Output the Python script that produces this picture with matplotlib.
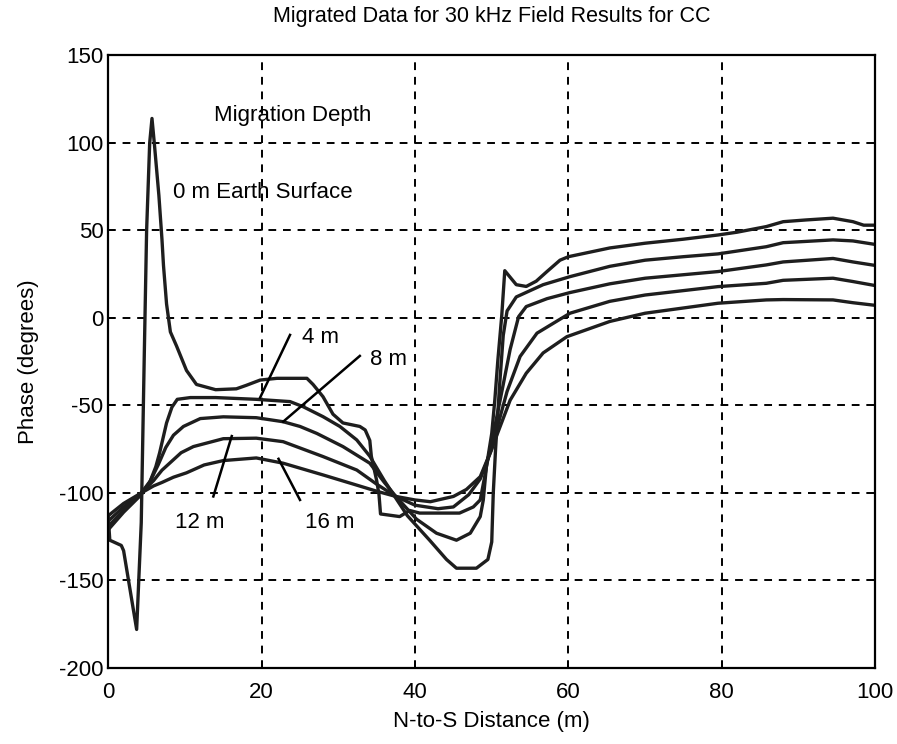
import matplotlib
matplotlib.use("Agg")
import matplotlib.pyplot as plt

plt.rcParams['font.family'] = ['Liberation Sans', 'DejaVu Sans']
plt.rcParams['axes.unicode_minus'] = False

# 0 m (earth surface)
x_0m = [0, 0.2, 1.7, 2.0, 3.7, 4.3, 4.7, 5.0, 5.4, 5.7, 6.0, 6.3, 6.6, 7.0, 7.2, 7.6, 8.1, 8.9,
        10.2, 11.5, 14.0, 16.7, 18.0, 19.8, 22.0, 25.9, 26.7, 28.0, 29.3, 30.6, 32.8, 33.5, 34.1,
        34.3, 35.0, 35.3, 35.5, 38.0, 39.3, 40.6, 45.8, 47.6, 48.5, 49.2, 50.0, 50.4, 50.8, 51.3,
        51.7, 53.2, 54.5, 55.8, 57.2, 58.9, 60.0, 65.4, 70.0, 75.0, 79.5, 82.0, 85.8, 88.0, 91.0,
        94.5, 97.1, 98.5, 100]
y_0m = [-114, -127, -130, -133, -178, -117, -20, 50, 100, 114, 100, 85, 70, 45, 30, 8, -8, -16,
        -30, -38, -41, -40.5, -38.5, -35.5, -34.5, -34.5, -38, -45, -55, -60, -62, -64, -70,
        -79, -93, -101, -112, -113.5, -110, -111.5, -111.5, -108, -104, -88, -66, -47, -24, 1,
        27, 19, 18, 21, 26.5, 33, 35, 40, 42.7, 45, 47.4, 49, 52.2, 55, 56,
        57, 55, 53, 53]

# 4 m
x_4m = [0, 2, 4.3, 5.4, 6.2, 6.7, 7.6, 8.3, 9.0, 10.7, 14, 19.3, 23.7, 25.4, 28, 30.2, 32.4,
        34.1, 36, 37.5, 39, 41.9, 44.1, 45.4, 48.0, 49.5, 50.0, 50.2, 50.5, 51.0, 51.5, 52.0,
        53.2, 56.7, 60.2, 65.4, 70, 75, 79.5, 85.8, 88, 94.5, 97.1, 100]
y_4m = [-121, -111, -101, -94, -85, -77, -60, -51, -46.5, -45.5, -45.5, -46.5, -47.8, -50.7,
        -56.4, -62, -69.7, -79, -93, -103, -113, -127, -138, -143, -143, -138, -128, -100, -75,
        -40, -10, 4, 12, 19, 23.6, 29.5, 33, 35, 36.6, 40.7, 43, 44.6, 44, 42]

# 8 m
x_8m = [0, 2, 4.3, 5.5, 6.5, 7.5, 8.5, 9.8, 12, 15, 19.3, 22.8, 25, 27.2, 30.6, 34.1, 36, 37.5,
        40.2, 42.8, 45.4, 47.2, 48.5, 48.9, 49.3, 50.5, 51.5, 52.4, 53.5, 54.5, 57.2, 60.2, 65.4,
        70, 79.5, 85.8, 88, 94.5, 97.1, 100]
y_8m = [-119, -110, -100, -93, -84, -74, -67, -62, -57.5, -56.5, -57, -59.3, -62, -66, -73.5,
        -83, -94, -102, -115, -123, -127, -123, -113.5, -104, -85, -60, -38, -18, 0.7, 6.5, 11,
        14.5, 19.5, 22.7, 26.5, 30.3, 32, 34, 32, 30]

# 12 m
x_12m = [0, 2, 4.3, 5.9, 7, 8, 9.5, 11.1, 15, 19.3, 22.8, 28, 32.4, 35, 37.5, 40, 43, 45, 47,
         48.5, 50, 51, 52, 53.7, 55.9, 60.2, 65.4, 70, 79.5, 85.8, 88, 94.5, 97.1, 100]
y_12m = [-116, -108, -100, -93, -87, -83, -77, -73.5, -69, -68.7, -70.7, -79.2, -86.9, -95, -102,
         -107, -109, -108, -101, -92, -75, -58, -42, -22, -8.7, 2.7, 9.5, 13.1, 17.9, 19.8, 21.5,
         22.7, 20.8, 18.5]

# 16 m
x_16m = [0, 2, 4.3, 5.9, 7, 8.5, 10.2, 12.5, 15, 19.3, 22.8, 28, 32, 35, 37.5, 40, 42, 45, 46.7,
         48.5, 49.8, 51.1, 52.4, 54.5, 56.7, 59.8, 65.4, 70, 79.5, 85.8, 88, 94.5, 97.1, 100]
y_16m = [-113, -106, -100, -96, -94, -91, -88.5, -84, -81.5, -80, -83, -89.7, -95, -99, -102,
         -104, -105, -102, -98, -90.7, -77, -62, -47, -31.6, -20, -10.7, -2, 2.7, 8.4, 10.3, 10.5,
         10.3, 8.7, 7.2]

series = [(x_0m, y_0m), (x_4m, y_4m), (x_8m, y_8m), (x_12m, y_12m), (x_16m, y_16m)]

# depth labels: (text, text x, text y, leader start, leader end)
labels = [
    ("4 m", 25.2, -14.5, (23.7, -9.7), (19.8, -45.5)),
    ("8 m", 34.1, -26.9, (32.8, -21.7), (22.8, -59.3)),
    ("12 m", 8.7, -120.2, (13.7, -102), (16.1, -67.5)),
    ("16 m", 25.6, -120.2, (25.0, -104), (22.2, -80.5)),
]

fig = plt.figure(figsize=(8.97, 7.44), dpi=100)
ax = fig.add_axes([0.1207, 0.1022, 0.855, 0.8233])

for xs, ys in series:
    ax.plot(xs, ys, color='#1e1e1e', lw=2.4, solid_joinstyle='round')

for txt, tx, ty, p0, p1 in labels:
    ax.plot([p0[0], p1[0]], [p0[1], p1[1]], color='black', lw=1.8)
    ax.text(tx, ty, txt, fontsize=16, ha='left', va='baseline')

ax.text(13.8, 112.7, "Migration Depth", fontsize=16, ha='left', va='baseline')
ax.text(8.4, 68.4, "0 m Earth Surface", fontsize=16, ha='left', va='baseline')

ax.set_xlim(0, 100)
ax.set_ylim(-200, 150)
ax.set_xticks(range(0, 101, 20))
ax.set_yticks(range(-200, 151, 50))
ax.grid(True, color='black', ls=(0, (4, 3.5)), lw=1.4)
ax.tick_params(direction='in', length=5, labelsize=16, width=1.2)
ax.tick_params(axis='x', pad=10)
for s in ax.spines.values():
    s.set_linewidth(1.6)

ax.set_xlabel("N-to-S Distance (m)", fontsize=16, labelpad=6)
ax.set_ylabel("Phase (degrees)", fontsize=16, labelpad=14)
ax.set_title("Migrated Data for 30 kHz Field Results for CC", fontsize=15.5, pad=24)

fig.savefig("out.png", dpi=100)
